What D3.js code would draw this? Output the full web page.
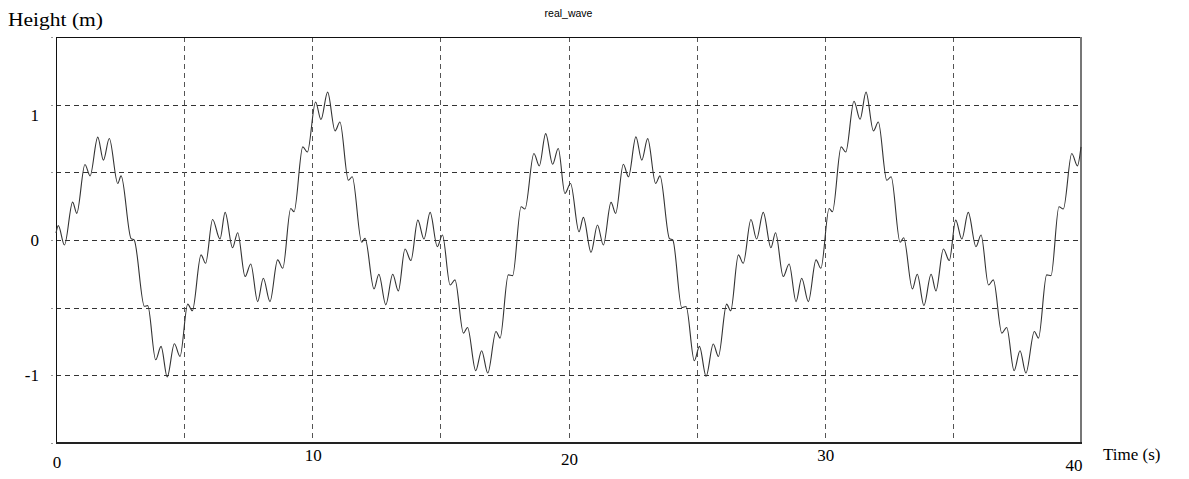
<!DOCTYPE html>
<html>
<head>
<meta charset="utf-8">
<script src="https://cdn.jsdelivr.net/npm/d3@7"></script>
<style>
  body { margin: 0; background: #fff; }
  svg { display: block; }
  .lbl { font-family: 'Liberation Serif', serif; font-size: 17px; fill: #000; }
  .title { font-family: 'Liberation Sans', sans-serif; font-size: 10.5px; fill: #000; }
</style>
</head>
<body>
<svg id="chart"></svg>
<script>
// wave: local peaks, troughs and shoulders
const timeS = [
  0, 0.09, 0.33, 0.65, 0.81, 1.13, 1.33, 1.63, 1.85, 2.08, 2.41, 2.54, 2.93, 3.05,
  3.45, 3.58, 3.89, 4.10, 4.34, 4.62, 4.84, 5.14, 5.32, 5.66, 5.84, 6.11, 6.40,
  6.60, 6.89, 7.09, 7.38, 7.60, 7.87, 8.09, 8.35, 8.65, 8.85, 9.16, 9.29, 9.63, 9.81,
  10.13, 10.34, 10.60, 10.89, 11.08, 11.41, 11.56, 11.93, 12.06, 12.41, 12.60, 12.87, 13.14,
  13.36, 13.62, 13.85, 14.12, 14.36, 14.60, 14.88, 15.08, 15.38, 15.57, 15.90, 16.06,
  16.38, 16.61, 16.85, 17.17, 17.33, 17.65, 17.82, 18.15, 18.30, 18.65, 18.86, 19.11,
  19.38, 19.60, 19.86, 20.08, 20.41, 20.58, 20.88, 21.13, 21.36, 21.66, 21.84, 22.14,
  22.34, 22.63, 22.86, 23.09, 23.40, 23.57, 23.94, 24.07, 24.42, 24.59, 24.91, 25.11,
  25.37, 25.65, 25.85, 26.17, 26.33, 26.63, 26.82, 27.12, 27.34, 27.60, 27.90, 28.08,
  28.38, 28.61, 28.88, 29.10, 29.36, 29.66, 29.85, 30.17, 30.30, 30.64, 30.82, 31.14,
  31.38, 31.61, 31.90, 32.09, 32.42, 32.59, 32.94, 33.08, 33.42, 33.61, 33.87, 34.15,
  34.34, 34.63, 34.86, 35.11, 35.35, 35.60, 35.90, 36.10, 36.39, 36.58, 36.91, 37.10,
  37.39, 37.62, 37.85, 38.18, 38.34, 38.66, 38.83, 39.14, 39.31, 39.64, 39.86, 40.0
];
const heightM = [
  0.05, 0.106, -0.037, 0.28, 0.197, 0.558, 0.474, 0.76, 0.59, 0.75, 0.418, 0.474, 0.01, 0.0,
  -0.49, -0.485, -0.885, -0.786, -1.012, -0.767, -0.86, -0.474, -0.523, -0.11, -0.172, 0.152, 0.007,
  0.204, -0.057, 0.054, -0.27, -0.177, -0.455, -0.283, -0.455, -0.147, -0.209, 0.233, 0.209, 0.688, 0.65,
  1.02, 0.89, 1.093, 0.806, 0.872, 0.442, 0.467, -0.017, 0.012, -0.361, -0.253, -0.479, -0.253,
  -0.376, -0.066, -0.152, 0.147, 0.007, 0.204, -0.049, 0.037, -0.332, -0.295, -0.688, -0.646,
  -0.966, -0.818, -0.983, -0.676, -0.725, -0.258, -0.263, 0.246, 0.229, 0.639, 0.548, 0.786,
  0.56, 0.676, 0.344, 0.418, 0.061, 0.167, -0.091, 0.111, -0.037, 0.278, 0.197, 0.56,
  0.467, 0.762, 0.59, 0.749, 0.418, 0.474, 0.01, 0.0, -0.499, -0.491, -0.892, -0.786,
  -1.007, -0.769, -0.86, -0.474, -0.523, -0.11, -0.172, 0.152, 0.007, 0.204, -0.057, 0.054,
  -0.27, -0.177, -0.455, -0.283, -0.455, -0.147, -0.209, 0.233, 0.209, 0.688, 0.65, 1.025,
  0.892, 1.093, 0.806, 0.872, 0.442, 0.467, -0.017, 0.017, -0.361, -0.253, -0.484, -0.253,
  -0.376, -0.066, -0.152, 0.147, 0.007, 0.204, -0.049, 0.037, -0.332, -0.295, -0.688, -0.646,
  -0.966, -0.818, -0.983, -0.676, -0.725, -0.258, -0.263, 0.246, 0.229, 0.639, 0.548, 0.688
];
const xTicks = [0, 10, 20, 30, 40];
const yTicks = [-1, 0, 1];
const xGrid = [5, 10, 15, 20, 25, 30, 35];
const yGrid = [-1, -0.5, 0, 0.5, 1];

const W = 1189, H = 479;
const margin = {top: 37, right: 108, bottom: 36, left: 56};
const width = W - margin.left - margin.right,
  height = H - margin.top - margin.bottom;

const x = d3.scaleLinear().domain([0, 40]).range([0, width]);
const y = d3.scaleLinear().domain([-1.5, 1.5]).range([height, 0]);

const svg = d3.select('#chart').attr('width', W).attr('height', H);
const g = svg.append('g')
  .attr('transform', 'translate(' + margin.left + ',' + margin.top + ')');

// dashed grid
g.selectAll('line.gy').data(yGrid).enter().append('line')
  .attr('x1', 0).attr('x2', width)
  .attr('y1', d => Math.round(y(d)) + 0.5).attr('y2', d => Math.round(y(d)) + 0.5)
  .attr('stroke', '#333').attr('stroke-dasharray', '5,4');
g.selectAll('line.gx').data(xGrid).enter().append('line')
  .attr('x1', d => Math.round(x(d)) + 0.5).attr('x2', d => Math.round(x(d)) + 0.5)
  .attr('y1', 0).attr('y2', height)
  .attr('stroke', '#555').attr('stroke-dasharray', '5,4');

// tiny ticks left of the frame
g.selectAll('line.tk').data(yGrid.concat([1.5, -1.5])).enter().append('line')
  .attr('x1', -5).attr('x2', -3)
  .attr('y1', d => Math.round(y(d)) + 0.5).attr('y2', d => Math.round(y(d)) + 0.5)
  .attr('stroke', '#999');

// frame
g.append('line').attr('x1', 0.5).attr('x2', 0.5).attr('y1', 0).attr('y2', height)
  .attr('stroke', '#111');
g.append('line').attr('x1', 0).attr('x2', width).attr('y1', 0.5).attr('y2', 0.5)
  .attr('stroke', '#111');
g.append('line').attr('x1', width).attr('x2', width).attr('y1', 0).attr('y2', height + 1)
  .attr('stroke', '#777').attr('stroke-width', 2);
g.append('line').attr('x1', 0).attr('x2', width + 1).attr('y1', height).attr('y2', height)
  .attr('stroke', '#222').attr('stroke-width', 2);

// the wave
const pts = timeS.map((t, i) => [t, heightM[i]]);
const line = d3.line()
  .x(d => x(d[0]))
  .y(d => y(d[1]))
  .curve(d3.curveMonotoneX);
g.append('path')
  .datum(pts)
  .attr('d', line)
  .attr('fill', 'none')
  .attr('stroke', '#333')
  .attr('stroke-width', 1.1);

// axis labels (the original staggers them a little)
const xLblDy = [25, 18, 22, 18, 28];
g.selectAll('text.xt').data(xTicks).enter().append('text')
  .attr('class', 'lbl')
  .attr('x', (d, i) => x(d) + (i === xTicks.length - 1 ? -7 : 1))
  .attr('y', (d, i) => height + xLblDy[i])
  .attr('text-anchor', 'middle')
  .text(d => d);

const yLblDy = [6, 6, 16];
g.selectAll('text.yt').data(yTicks).enter().append('text')
  .attr('class', 'lbl')
  .attr('x', -17)
  .attr('y', (d, i) => y(d) + yLblDy[i])
  .attr('text-anchor', 'end')
  .text(d => d);

svg.append('text').attr('class', 'lbl')
  .attr('x', 8).attr('y', 26)
  .style('font-size', '19px')
  .attr('textLength', 95)
  .attr('lengthAdjust', 'spacingAndGlyphs')
  .text('Height (m)');

svg.append('text').attr('class', 'lbl')
  .attr('x', 1103).attr('y', 460)
  .text('Time (s)');

svg.append('text').attr('class', 'title')
  .attr('x', margin.left + x(20)).attr('y', 17)
  .attr('text-anchor', 'middle')
  .text('real_wave');
</script>
</body>
</html>
